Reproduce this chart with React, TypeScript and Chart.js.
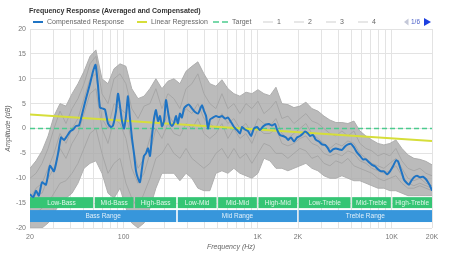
import React, { useEffect, useRef } from "react";
import { Chart, registerables } from "chart.js";

Chart.register(...registerables);

const FONT = "'Liberation Sans', Arial, sans-serif";

// Compensated response (Hz, dB)
const COMP_FREQ = [
  20, 21.1, 22.2, 23.3, 24.6, 26.3, 28.2, 30.2, 32.4, 34.1,
  35.9, 37.8, 39.8, 41.9, 44.1, 46.4, 48.9, 52.3, 56.1, 59.1,
  61.7, 64.4, 66.6, 70.1, 72.6, 76.4, 80.4, 83.3, 87.7, 90.7,
  93.9, 97.2, 100.6, 104.1, 107.7, 111.5, 115.4, 119.4, 123.6, 127.9,
  132.4, 137, 141.8, 146.8, 151.9, 157.2, 162.7, 168.4, 174.3, 180.4,
  186.7, 193.3, 200, 207, 214, 222, 229, 238, 246, 254,
  263, 272, 282, 292, 307, 324, 341, 359, 371, 384,
  398, 412, 426, 441, 464, 489, 515, 542, 570, 601,
  632, 666, 701, 738, 764, 804, 847, 892, 939, 989,
  1041, 1096, 1154, 1215, 1279, 1347, 1394, 1468, 1545, 1627,
  1684, 1773, 1867, 1966, 2070, 2179, 2255, 2374, 2458, 2588,
  2725, 2869, 3021, 3181, 3349, 3466, 3650, 3843, 4046, 4260,
  4485, 4722, 4971, 5234, 5511, 5802, 6109, 6432, 6772, 7130,
  7508, 7905, 8323, 8763, 9227, 9715, 10229, 10770, 11150, 11542,
  11947, 12365, 13018, 13473, 13941, 14679, 15457, 16272, 17132, 18043,
  18668, 19324, 20000,
];
const COMP_DB = [
  -13.2, -13.8, -12.5, -13.5, -10.8, -11.3, -7.5, -8.6, -5.0, -1.8,
  -2.3, -1.5, -0.6, -0.2, 0.5, 0.6, 2.8, 6.0, 9.0, 11.5,
  12.8, 8.5, 4.2, 4.0, 3.8, 1.0, 0.3, 0.6, 3.5, 7.0,
  4.5, 1.5, 0.0, 2.5, 6.5, 2.0, -2.0, -5.0, -8.5, -10.0,
  -10.8, -8.0, -5.5, -5.0, -4.0, -5.5, -1.5, 2.0, 3.7, 1.5,
  2.5, 0.5, 1.5, 5.7, 3.5, 1.0, 0.5, 1.2, 2.5, 1.0,
  3.0, 2.2, 4.0, 4.5, 4.8, 4.0, 3.3, 3.0, 3.8, 4.7,
  3.5, 2.5, 0.0, 1.8, 2.2, 2.5, 2.3, 2.5, 2.0, 2.2,
  1.3, 0.3, -0.3, -1.0, 0.3, -0.2, -0.5, -1.5, 0.0, 0.3,
  -0.3, 0.4, 0.8, 0.9, 0.6, 0.9, -0.2, -1.3, -1.5, -1.8,
  -2.3, -1.8, -2.6, -1.8, -1.5, -1.0, -0.6, -1.0, -1.5, -1.3,
  -2.3, -2.6, -3.2, -3.3, -4.0, -4.7, -4.2, -4.0, -4.2, -4.3,
  -3.6, -3.2, -3.1, -3.8, -4.8, -5.5, -6.2, -6.2, -6.8, -7.3,
  -7.6, -8.2, -8.6, -8.6, -9.2, -8.6, -7.6, -6.4, -6.6, -7.8,
  -9.0, -10.3, -11.0, -11.3, -10.6, -9.8, -9.5, -9.8, -9.7, -10.2,
  -10.8, -11.5, -12.5,
];

// Linear regression of the compensated response
const REG_FREQ = [20, 20000];
const REG_DB = [2.8, -2.5];

// Target curve
const TARGET_FREQ = [20, 20000];
const TARGET_DB = [0, 0];

// Individual measurement passes, shared frequency grid
const SAMPLE_FREQ = [
  20, 22.2, 24.6, 27.3, 30.2, 33.5, 37.1, 41.2, 45.6, 50.6,
  56.1, 62.1, 68.9, 76.4, 84.7, 93.9, 104, 115, 128, 142,
  157, 174, 193, 214, 237, 263, 292, 323, 358, 397,
  440, 488, 541, 600, 665, 737, 818, 906, 1005, 1114,
  1235, 1369, 1517, 1682, 1865, 2067, 2291, 2540, 2816, 3122,
  3461, 3836, 4253, 4715, 5227, 5794, 6423, 7121, 7894, 8751,
  9701, 10754, 11922, 13217, 14652, 16242, 18006, 20000,
];
const SAMPLE_1 = [
  -10, -9, -7, -4, 0, 3.5, 1, 4, 6, 9,
  13, 14.5, 7, 5, 10, 11, 9, 4, 2, 4.5,
  5, 8, 4, 7, 6, 4, 8, 9, 11, 7,
  5, 4, 7, 4, 5, 3, 5, 4, 5.5, 3,
  4, 5.5, 2, 2.5, 1, 2, 3, 1.5, 1, 0,
  -1, -1.5, -0.5, -1.5, -0.5, -3, -4, -4.5, -5.5, -5,
  -5.5, -4, -6.5, -8, -8.5, -8, -9, -9.5,
];
const SAMPLE_2 = [
  -18, -17, -16, -15, -13, -11, -10.5, -9, -7, -4,
  -1, 0, -5, -9, -7, -6, -11, -14, -16, -13,
  -10, -6, -5, -3, -5, -6, -4, -6, -7, -8,
  -7, -5, -4, -6, -4, -6, -5, -7, -5, -3,
  -3.5, -5, -5, -6, -5, -4, -4.5, -6, -5.5, -7,
  -7.5, -6.5, -7, -6, -7.5, -8, -8.5, -9, -10, -10.5,
  -10, -9.5, -11, -12, -12, -11.5, -12, -12.5,
];
const SAMPLE_3 = [
  -14, -12, -11, -8, -5, -1, -3, 0, 2, 6,
  10, 11, 2, 0, 5, 4, 3, -3, -8, -6,
  -2, 3, 0, 3, 1, 2, 4, 3, 5, 2,
  1, 0, 3, 1, 2, 0, 1, -1, 2, 1,
  0.5, 2, -1, -2, -1, 0, 1, -1, -2, -3,
  -4, -3, -3.5, -2.5, -3, -5, -6, -7, -7.5, -8,
  -7, -6, -8, -10, -10.5, -10, -11, -11.5,
];
const SAMPLE_4 = [
  -16, -13, -13, -10, -8, -4, -6, -3, -1, 3,
  7, 8, 0, -3, 2, 1, -2, -8, -11, -9,
  -5, 0, -2, 1, -1, -1.5, 1, 0, 2, -1,
  -2, -1, 1, -2, 0, -2, -1, -3, 0, -1,
  -1, 0, -3, -3.5, -3, -2, -1.5, -3, -3.5, -5,
  -5.5, -5, -5.5, -4.5, -5, -6.5, -7, -8, -8.5, -9,
  -8.5, -7.5, -9.5, -11, -11.5, -11, -11.5, -12,
];
// Highest and lowest reading among all passes
const SPREAD_HIGH = [
  -8, -6.5, -4.5, -1.5, 2.5, 5, 4.5, 7, 9, 11.5,
  14.5, 15.8, 10, 9, 12, 13, 12.5, 8, 6, 6.5,
  8, 10, 8, 9.5, 10, 9, 11.5, 12.5, 13.4, 11,
  9, 8.5, 9.8, 8, 7, 6.5, 7.3, 7, 7.8, 7,
  6.6, 8.3, 5, 4.8, 4.2, 4.5, 5.3, 4, 3.5, 2.5,
  1.7, 1.2, 1.2, 1, 1.5, -0.5, -1.5, -2.3, -3, -3.3,
  -3, -2.3, -4, -5.3, -6, -6.2, -6.6, -7.3,
];
const SPREAD_LOW = [
  -20, -20, -20, -19, -17, -15, -14, -13, -11, -8,
  -7, -6.5, -9, -13, -14, -12, -16, -19, -20, -19,
  -16, -12, -9, -9, -9, -10.5, -9, -10, -12, -12.5,
  -12.5, -9, -8.5, -9, -8, -9, -9.5, -10, -9, -6,
  -6.5, -8, -8, -8.5, -8, -7.5, -7, -8, -8.5, -9.5,
  -10, -10, -9.5, -10, -10.5, -10.5, -11, -11.5, -12, -12,
  -12.5, -12.5, -13, -13.5, -13.5, -13.5, -13.5, -13.5,
];

// Axis ticks
const GRID_FREQ = [
  20, 30, 40, 50, 60, 70, 80, 90, 100,
  200, 300, 400, 500, 600, 700, 800, 900, 1000,
  2000, 3000, 4000, 5000, 6000, 7000, 8000, 9000, 10000, 20000,
];
const FREQ_LABELS: Record<number, string> = {
  20: "20", 100: "100", 1000: "1K", 2000: "2K", 10000: "10K", 20000: "20K",
};

// Frequency bands
const SUB_BANDS = [
  "Low-Bass", "Mid-Bass", "High-Bass", "Low-Mid", "Mid-Mid",
  "High-Mid", "Low-Treble", "Mid-Treble", "High-Treble",
];
const SUB_BAND_EDGES = [20, 60, 120, 250, 500, 1000, 2000, 5000, 10000, 20000];
const RANGES = ["Bass Range", "Mid Range", "Treble Range"];
const RANGE_EDGES = [20, 250, 2000, 20000];

const pts = (xs: number[], ys: number[]) => xs.map((x, i) => ({ x, y: ys[i] }));

const GRAY = "#a6a6a6";
const LAST_SAMPLE_INDEX = 3;

const bandsPlugin = {
  id: "bands",
  afterDatasetDraw(chart: any, args: any) {
    if (args.index !== LAST_SAMPLE_INDEX) return;
    const { ctx, scales } = chart;
    const x = scales.x;
    const y = scales.y;
    const row = (edges: number[], names: string[], top: number, bottom: number, color: string) => {
      const t = y.getPixelForValue(top);
      const b = y.getPixelForValue(bottom);
      ctx.save();
      ctx.font = `6.5px ${FONT}`;
      ctx.textAlign = "center";
      ctx.textBaseline = "middle";
      for (let i = 0; i < names.length; i++) {
        const x0 = x.getPixelForValue(edges[i]) + (i > 0 ? 0.8 : 0);
        const x1 = x.getPixelForValue(edges[i + 1]) - (i < names.length - 1 ? 0.8 : 0);
        ctx.fillStyle = color;
        ctx.fillRect(x0, t, x1 - x0, b - t);
        ctx.fillStyle = "rgba(255,255,255,0.85)";
        ctx.fillText(names[i], (x0 + x1) / 2, (t + b) / 2 + 0.5);
      }
      ctx.restore();
    };
    row(SUB_BAND_EDGES, SUB_BANDS, -13.8, -16.0, "#35c574");
    row(RANGE_EDGES, RANGES, -16.4, -18.8, "#3796db");
  },
};

const LEGEND_SLOTS = [
  { x: 33, w: 10 },
  { x: 137, w: 10 },
  { x: 213, w: 15 },
  { x: 263, w: 10 },
  { x: 294, w: 10 },
  { x: 326, w: 10 },
  { x: 358, w: 10 },
];

const chromePlugin = {
  id: "chrome",
  afterDraw(chart: any) {
    const { ctx, chartArea } = chart;
    ctx.save();
    // title
    ctx.fillStyle = "#333";
    ctx.font = `bold 7px ${FONT}`;
    ctx.textBaseline = "middle";
    ctx.textAlign = "left";
    ctx.fillText("Frequency Response (Averaged and Compensated)", 29, 11);

    // legend
    const ly = 22;
    ctx.font = `7px ${FONT}`;
    LEGEND_SLOTS.forEach((slot, i) => {
      const ds = chart.data.datasets[i];
      ctx.save();
      ctx.strokeStyle = i >= 3 ? "#cfcfcf" : ds.borderColor;
      ctx.lineWidth = i >= 3 ? 1 : ds.borderWidth;
      if (ds.borderDash) ctx.setLineDash([6, 3]);
      ctx.beginPath();
      ctx.moveTo(slot.x, ly);
      ctx.lineTo(slot.x + slot.w, ly);
      ctx.stroke();
      ctx.restore();
      ctx.fillStyle = "#666";
      ctx.fillText(ds.label, slot.x + slot.w + 4, ly + 0.5);
    });

    // page indicator
    ctx.fillStyle = "#c4c8d8";
    ctx.beginPath();
    ctx.moveTo(404, ly);
    ctx.lineTo(408.5, ly - 3.5);
    ctx.lineTo(408.5, ly + 3.5);
    ctx.closePath();
    ctx.fill();
    ctx.fillStyle = "#4a5fc8";
    ctx.font = `6.5px ${FONT}`;
    ctx.fillText("1/6", 411, ly + 0.5);
    ctx.fillStyle = "#1d3fe0";
    ctx.beginPath();
    ctx.moveTo(424, ly - 4);
    ctx.lineTo(431, ly);
    ctx.lineTo(424, ly + 4);
    ctx.closePath();
    ctx.fill();

    // axis titles
    ctx.fillStyle = "#666";
    ctx.font = `italic 7px ${FONT}`;
    ctx.textAlign = "center";
    ctx.fillText("Frequency (Hz)", (chartArea.left + chartArea.right) / 2, 247);
    ctx.translate(8, (chartArea.top + chartArea.bottom) / 2);
    ctx.rotate(-Math.PI / 2);
    ctx.fillText("Amplitude (dB)", 0, 0);
    ctx.restore();
  },
};

export default function App() {
  const ref = useRef<HTMLCanvasElement>(null);

  useEffect(() => {
    document.body.style.margin = "0";
    Chart.defaults.font.family = FONT;
    const chart = new Chart(ref.current as HTMLCanvasElement, {
      type: "line",
      data: {
        datasets: [
          {
            label: "Compensated Response",
            data: pts(COMP_FREQ, COMP_DB),
            borderColor: "#1f74c4",
            borderWidth: 2,
            pointRadius: 0,
            tension: 0.2,
            fill: false,
          },
          {
            label: "Linear Regression",
            data: pts(REG_FREQ, REG_DB),
            borderColor: "#d6de3a",
            borderWidth: 2,
            pointRadius: 0,
            fill: false,
          },
          {
            label: "Target",
            data: pts(TARGET_FREQ, TARGET_DB),
            borderColor: "#4ccb8e",
            borderWidth: 1.5,
            borderDash: [5, 3],
            pointRadius: 0,
            fill: false,
          },
          { label: "1", data: pts(SAMPLE_FREQ, SAMPLE_1), borderColor: GRAY, borderWidth: 1, pointRadius: 0, fill: false },
          { label: "2", data: pts(SAMPLE_FREQ, SAMPLE_2), borderColor: GRAY, borderWidth: 1, pointRadius: 0, fill: false },
          { label: "3", data: pts(SAMPLE_FREQ, SAMPLE_3), borderColor: GRAY, borderWidth: 1, pointRadius: 0, fill: false },
          { label: "4", data: pts(SAMPLE_FREQ, SAMPLE_4), borderColor: GRAY, borderWidth: 1, pointRadius: 0, fill: false },
          {
            label: "max",
            data: pts(SAMPLE_FREQ, SPREAD_HIGH),
            borderColor: "rgba(170,170,170,0.9)",
            borderWidth: 1,
            backgroundColor: "rgba(172,172,172,0.82)",
            pointRadius: 0,
            fill: "+1",
          },
          {
            label: "min",
            data: pts(SAMPLE_FREQ, SPREAD_LOW),
            borderColor: "rgba(170,170,170,0.9)",
            borderWidth: 1,
            pointRadius: 0,
            fill: false,
          },
        ],
      },
      options: {
        responsive: false,
        animation: false,
        devicePixelRatio: 1,
        layout: { padding: { top: 29, right: 18, left: 0, bottom: 0 } },
        plugins: { legend: { display: false }, title: { display: false }, tooltip: { enabled: false } },
        scales: {
          x: {
            type: "logarithmic",
            min: 20,
            max: 20000,
            afterBuildTicks: (axis: any) => {
              axis.ticks = GRID_FREQ.map((v) => ({ value: v }));
            },
            afterFit: (axis: any) => {
              axis.height = 32;
            },
            ticks: {
              autoSkip: false,
              maxRotation: 0,
              padding: 5,
              color: "#777",
              font: { size: 7, family: FONT },
              callback: (v: any) => FREQ_LABELS[Number(v)] ?? "",
            },
            grid: { color: "#e3e3e3", drawTicks: false },
            border: { display: false },
          },
          y: {
            type: "linear",
            min: -20,
            max: 20,
            afterFit: (axis: any) => {
              axis.width = 30;
            },
            ticks: { stepSize: 5, padding: 4, color: "#777", font: { size: 7, family: FONT } },
            grid: { color: "#e3e3e3", drawTicks: false },
            border: { display: false },
          },
        },
      },
      plugins: [bandsPlugin, chromePlugin],
    } as any);
    return () => chart.destroy();
  }, []);

  return (
    <div style={{ width: 450, height: 260 }}>
      <canvas ref={ref} width={450} height={260} style={{ display: "block" }} />
    </div>
  );
}
